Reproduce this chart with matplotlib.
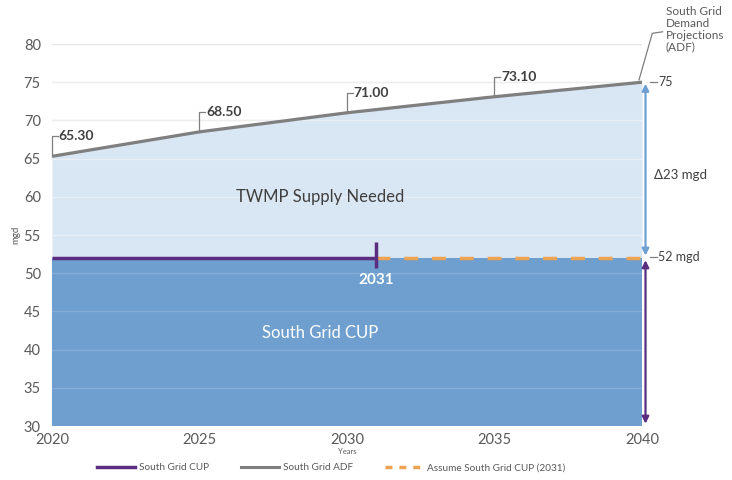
import matplotlib
matplotlib.use("Agg")
import matplotlib.pyplot as plt
from matplotlib.lines import Line2D
import numpy as np

plt.rcParams['font.family'] = ['Lato', 'DejaVu Sans']

# Demand projection (ADF), mgd
years = [2020, 2025, 2030, 2035, 2040]
adf = [65.30, 68.50, 71.00, 73.10, 75.00]
adf_labels = ["65.30", "68.50", "71.00", "73.10"]

# Current use permit level and the year it is assumed to hold from
cup = 52
cup_year = 2031
delta = 23
y_ticks = [30, 35, 40, 45, 50, 55, 60, 65, 70, 75, 80]
x_ticks = [2020, 2025, 2030, 2035, 2040]

C_LIGHT = "#d9e6f3"
C_DARK = "#6f9fce"
C_ADF = "#7f7f7f"
C_CUP = "#5b2d80"
C_ORANGE = "#eea253"
C_ARROW = "#6d9fd2"
C_TEXT = "#404040"
C_TICK = "#595959"

fig = plt.figure(figsize=(7.32, 4.80), dpi=100)
ax = fig.add_axes([0.071, 0.1125, 0.806, 0.7958])

x = np.array(years, dtype=float)
y = np.array(adf)

# Grid behind everything, plus faint lighter lines over the filled areas
for t in y_ticks:
    ax.axhline(t, color="#e3e3e3", lw=1.0, zorder=0)
ax.fill_between(x, cup, y, color=C_LIGHT, lw=0, zorder=1)
ax.fill_between([2020, 2040], 30, cup, color=C_DARK, lw=0, zorder=1)
for t in y_ticks[1:-1]:
    a = 0.4 if t > cup else 0.15
    ax.axhline(t, color="white", lw=1.0, alpha=a, zorder=2)

# ADF projection line
ax.plot(x, y, color=C_ADF, lw=2.3, zorder=4, solid_capstyle="butt")

# CUP line up to the assumption year, then dashed
ax.plot([2020, cup_year], [cup, cup], color=C_CUP, lw=2.5, zorder=5, solid_capstyle="butt")
ax.plot([cup_year, 2040], [cup, cup], color=C_ORANGE, lw=2.5, zorder=5,
        dashes=(4, 4))
ax.plot([cup_year, cup_year], [cup - 1.3, cup + 2.1], color=C_CUP, lw=2.5, zorder=6,
        solid_capstyle="butt")
ax.text(cup_year, cup - 2.9, str(cup_year), color="white", fontsize=11,
        fontweight="bold", ha="center", va="center", zorder=6)

# Value callouts on the ADF line
h = 2.6
for xi, yi, lab in zip(years[:-1], adf[:-1], adf_labels):
    ax.plot([xi, xi, xi + 0.2], [yi, yi + h, yi + h], color=C_ADF, lw=0.9,
            zorder=4, clip_on=False)
    ax.text(xi + 0.22, yi + h, lab, fontsize=10, fontweight="bold", color=C_TEXT,
            ha="left", va="center", zorder=6, clip_on=False)

# Area labels
ax.text(2029.1, 60.0, "TWMP Supply Needed", fontsize=12, color=C_TEXT,
        ha="center", va="center", zorder=6)
ax.text(2029.1, 42.2, "South Grid CUP", fontsize=12, color="white",
        ha="center", va="center", zorder=6)

# Right-hand annotations
xa = 2040.12
ax.annotate("", xy=(xa, cup + 0.3), xytext=(xa, adf[-1] - 0.2),
            arrowprops=dict(arrowstyle="<|-|>", color=C_ARROW, lw=1.6,
                            mutation_scale=10, shrinkA=0, shrinkB=0),
            annotation_clip=False, zorder=6)
ax.annotate("", xy=(xa, 30.3), xytext=(xa, cup - 0.3),
            arrowprops=dict(arrowstyle="<|-|>", color=C_CUP, lw=1.6,
                            mutation_scale=10, shrinkA=0, shrinkB=0),
            annotation_clip=False, zorder=6)

ax.plot([2040.27, 2040.5], [adf[-1], adf[-1]], color=C_ADF, lw=0.9, clip_on=False)
ax.text(2040.55, adf[-1], f"{adf[-1]:.0f}", fontsize=9, color=C_TEXT,
        ha="left", va="center", clip_on=False)
ax.plot([2040.27, 2040.5], [cup + 0.1, cup + 0.1], color=C_ADF, lw=0.9, clip_on=False)
ax.text(2040.55, cup + 0.1, f"{cup} mgd", fontsize=9, color=C_TEXT,
        ha="left", va="center", clip_on=False)
ax.text(2040.42, 62.9, f"\u0394{delta} mgd", fontsize=9.5, color=C_TEXT,
        ha="left", va="center", clip_on=False)

ax.plot([2039.9, 2040.35, 2040.7], [75.3, 81.4, 81.6], color=C_ADF, lw=0.9,
        clip_on=False)
ax.text(2040.8, 85.0, "South Grid\nDemand\nProjections\n(ADF)", fontsize=8.5,
        color=C_TICK, ha="left", va="top", linespacing=1.1, clip_on=False)

# Axes styling
ax.set_xlim(2020, 2040)
ax.set_ylim(30, 80)
ax.set_xticks(x_ticks)
ax.set_yticks(y_ticks)
ax.tick_params(length=0, labelsize=10.5, colors=C_TICK, pad=5)
ax.tick_params(axis="y", pad=8)
for s in ax.spines.values():
    s.set_visible(False)
ax.set_xlabel("Years", fontsize=5.5, color=C_TICK, labelpad=1)
ax.set_ylabel("mgd", fontsize=7, color=C_TICK, labelpad=2)

# Legend
handles = [
    Line2D([], [], color=C_CUP, lw=2.5),
    Line2D([], [], color=C_ADF, lw=2.2),
    Line2D([], [], color=C_ORANGE, lw=2.5, dashes=(2, 2)),
]
fig.legend(handles, ["South Grid CUP", "South Grid ADF", "Assume South Grid CUP (2031)"],
           loc="center", bbox_to_anchor=(0.452, 0.025), ncol=3, frameon=False,
           fontsize=7.2, handlelength=3.8, columnspacing=3.2, handletextpad=0.4,
           labelcolor=C_TICK)

fig.savefig("out.png", dpi=100, facecolor="white")
